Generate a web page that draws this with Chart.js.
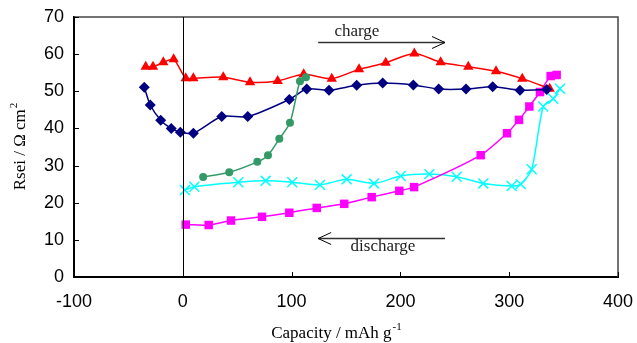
<!DOCTYPE html>
<html>
<head>
<meta charset="utf-8">
<script src="https://cdn.jsdelivr.net/npm/chart.js@4"></script>
<style>
html, body { margin: 0; padding: 0; background: #fff; }
</style>
</head>
<body>
<canvas id="chart" width="637" height="343"></canvas>
<script>
// values
const redX = [-34.1, -27.4, -17.9, -8.4, 2.7, 9.7, 37.2, 61.8, 87.2, 111.1, 136.9, 162, 186.5, 212.8, 237, 262.4, 287.9, 312, 337.2];
const redY = [56.6, 56.6, 57.8, 58.6, 53.5, 53.5, 53.8, 52.4, 52.8, 54.6, 53.4, 55.9, 57.7, 60.2, 57.8, 56.6, 55.4, 53.4, 50.7];

const blueX = [-35.4, -29.9, -20.3, -10.6, -2.3, 9.7, 35.8, 59.7, 97.9, 113.9, 134.4, 159.8, 183.7, 211.9, 235.2, 260.3, 284.8, 309.9, 334.5];
const blueY = [51.1, 46.3, 42.2, 40.0, 39.0, 38.7, 43.2, 43.2, 47.8, 50.6, 50.3, 51.6, 52.2, 51.7, 50.6, 50.6, 51.2, 50.3, 50.5];

const greenX = [18.7, 42.7, 68.5, 78.3, 88.7, 98.5, 107.7, 113.2];
const greenY = [26.9, 28.2, 31.0, 32.8, 37.2, 41.5, 52.7, 53.8];

const cyanX = [2.0, 10.6, 51, 76.2, 100.6, 126.1, 150.6, 175.7, 200.3, 226.6, 251.7, 276.2, 302.3, 310.6, 320.7, 331.3, 340.5, 346.7];
const cyanY = [23.4, 24.3, 25.5, 25.9, 25.5, 24.8, 26.3, 25.2, 27.2, 27.7, 27.0, 25.2, 24.5, 25.0, 29.0, 45.9, 48.0, 50.7];

const pinkX = [2.7, 23.8, 44.3, 72.8, 97.9, 123.1, 148.4, 173.6, 199, 212.6, 273.8, 298, 309, 318.5, 328.3, 338.1, 343.6];
const pinkY = [14.1, 14.0, 15.2, 16.2, 17.3, 18.6, 19.7, 21.5, 23.2, 24.2, 32.8, 38.7, 42.3, 45.9, 49.8, 54.1, 54.4];

const xTicks = [-100, 0, 100, 200, 300, 400];
const yTicks = [0, 10, 20, 30, 40, 50, 60, 70];

function points(xs, ys) {
    return xs.map((x, i) => ({ x: x, y: ys[i] }));
}

function series(xs, ys, color, style, radius) {
    return {
        data: points(xs, ys),
        showLine: true,
        borderColor: color,
        backgroundColor: color,
        borderWidth: 1.5,
        pointStyle: style,
        pointRadius: radius,
        pointBorderWidth: style === 'crossRot' ? 1.5 : 0,
        pointBorderColor: color,
        tension: 0.25,
    };
}

// vertical zero line, frame, inner ticks, arrows and titles
const decor = {
    id: 'decor',
    afterDatasetsDraw(chart) {
        const ctx = chart.ctx;
        const xs = chart.scales.x, ys = chart.scales.y;
        const a = chart.chartArea;
        ctx.save();

        // frame top / right
        ctx.strokeStyle = '#444';
        ctx.lineWidth = 1.5;
        ctx.beginPath();
        ctx.moveTo(a.left, a.top);
        ctx.lineTo(a.right, a.top);
        ctx.lineTo(a.right, a.bottom);
        ctx.stroke();

        // x = 0 line
        ctx.strokeStyle = '#000';
        ctx.lineWidth = 1;
        const x0 = Math.round(xs.getPixelForValue(0)) + 0.5;
        ctx.beginPath();
        ctx.moveTo(x0, a.top);
        ctx.lineTo(x0, a.bottom);
        ctx.stroke();

        // inner tick marks
        ctx.lineWidth = 1;
        xTicks.forEach(v => {
            const px = Math.round(xs.getPixelForValue(v)) + 0.5;
            ctx.beginPath();
            ctx.moveTo(px, a.bottom);
            ctx.lineTo(px, a.bottom - 5);
            ctx.stroke();
        });
        yTicks.forEach(v => {
            const py = Math.round(ys.getPixelForValue(v)) + 0.5;
            ctx.beginPath();
            ctx.moveTo(a.left, py);
            ctx.lineTo(a.left + 5, py);
            ctx.stroke();
        });

        // arrows
        function arrow(v1, v2, vy, headAtEnd) {
            const p1 = xs.getPixelForValue(v1), p2 = xs.getPixelForValue(v2);
            const py = Math.round(ys.getPixelForValue(vy)) + 0.5;
            ctx.strokeStyle = '#333';
            ctx.lineWidth = 1.5;
            ctx.beginPath();
            ctx.moveTo(p1, py);
            ctx.lineTo(p2, py);
            ctx.stroke();
            const hx = headAtEnd ? p2 : p1;
            const d = headAtEnd ? -13 : 13;
            ctx.strokeStyle = '#000';
            ctx.lineWidth = 1;
            ctx.beginPath();
            ctx.moveTo(hx + d, py - 6);
            ctx.lineTo(hx, py);
            ctx.lineTo(hx + d, py + 6);
            ctx.stroke();
        }
        arrow(124.4, 241, 63.3, true);
        arrow(124.4, 241, 10.5, false);

        ctx.fillStyle = '#222';
        ctx.font = '17px "Liberation Serif"';
        ctx.textAlign = 'center';
        ctx.textBaseline = 'middle';
        ctx.fillText('charge', xs.getPixelForValue(160), ys.getPixelForValue(66.2));
        ctx.fillText('discharge', xs.getPixelForValue(184), ys.getPixelForValue(8.1));

        // x title with superscript
        ctx.fillStyle = '#000';
        ctx.textAlign = 'left';
        ctx.textBaseline = 'alphabetic';
        const main = 'Capacity / mAh g';
        const sup = '-1';
        ctx.font = '17px "Liberation Serif"';
        const w1 = ctx.measureText(main).width;
        ctx.font = '11px "Liberation Serif"';
        const w2 = ctx.measureText(sup).width;
        let sx = 336 - (w1 + w2) / 2;
        ctx.font = '17px "Liberation Serif"';
        ctx.fillText(main, sx, 338);
        ctx.font = '11px "Liberation Serif"';
        ctx.fillText(sup, sx + w1 + 1, 330);

        // y title, rotated, with superscript
        ctx.translate(25, 147);
        ctx.rotate(-Math.PI / 2);
        const ymain = 'Rsei / \u03A9 cm';
        ctx.font = '17px "Liberation Serif"';
        const yw1 = ctx.measureText(ymain).width;
        ctx.font = '11px "Liberation Serif"';
        const yw2 = ctx.measureText('2').width;
        sx = -(yw1 + yw2) / 2;
        ctx.font = '17px "Liberation Serif"';
        ctx.fillText(ymain, sx, 0);
        ctx.font = '11px "Liberation Serif"';
        ctx.fillText('2', sx + yw1 + 1, -8);

        ctx.restore();
    }
};

new Chart(document.getElementById('chart').getContext('2d'), {
    type: 'scatter',
    data: {
        datasets: [
            series(greenX, greenY, '#339966', 'circle', 4),
            series(blueX, blueY, '#000080', 'rectRot', 5.5),
            series(redX, redY, '#FF0000', 'triangle', 6),
            series(pinkX, pinkY, '#FF00FF', 'rect', 6),
            series(cyanX, cyanY, '#00FFFF', 'crossRot', 7),
        ],
    },
    options: {
        responsive: false,
        animation: false,
        layout: { padding: { top: 17, right: 19, left: 0, bottom: 0 } },
        plugins: { legend: { display: false }, tooltip: { enabled: false } },
        scales: {
            x: {
                type: 'linear',
                min: -100,
                max: 400,
                afterBuildTicks: scale => { scale.ticks = xTicks.map(v => ({ value: v })); },
                afterFit: scale => { scale.height = 66; scale.paddingLeft = 0; scale.paddingRight = 0; },
                ticks: { font: { family: 'Liberation Sans', size: 18 }, color: '#000', padding: 14 },
                grid: { display: false, drawTicks: false },
                border: { display: true, color: '#000', width: 2 },
            },
            y: {
                min: 0,
                max: 70,
                afterBuildTicks: scale => { scale.ticks = yTicks.map(v => ({ value: v })); },
                afterFit: scale => { scale.width = 74; scale.paddingTop = 0; scale.paddingBottom = 0; },
                ticks: { font: { family: 'Liberation Sans', size: 18 }, color: '#000', padding: 10 },
                grid: { display: false, drawTicks: false },
                border: { display: true, color: '#000', width: 2 },
            },
        },
    },
    plugins: [decor],
});
</script>
</body>
</html>
